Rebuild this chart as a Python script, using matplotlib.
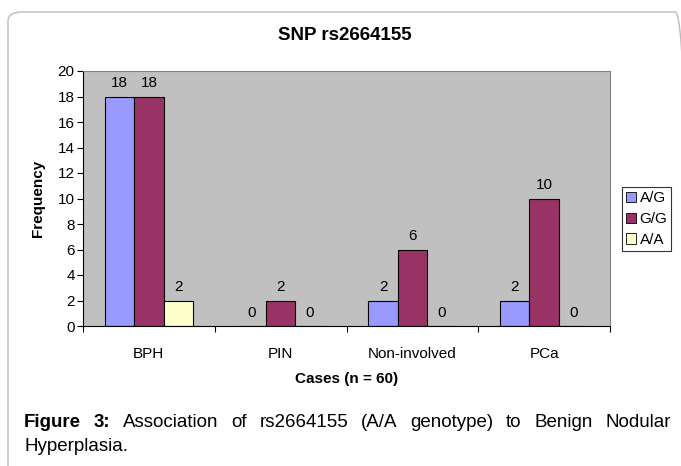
import numpy as np
import matplotlib.pyplot as plt
from matplotlib.patches import FancyBboxPatch

plt.rcParams['font.family'] = ['Liberation Sans', 'DejaVu Sans']

# data
cases = ["BPH", "PIN", "Non-involved", "PCa"]
genotypes = ["A/G", "G/G", "A/A"]
ag = [18, 0, 2, 2]
gg = [18, 2, 6, 10]
aa = [2, 0, 0, 0]
colors = ["#9999FF", "#993366", "#FFFFCC"]

W, H = 681, 466
fig = plt.figure(figsize=(W / 100, H / 100), dpi=100)

# rounded frame around the figure box
frame = FancyBboxPatch((8 / W, -0.2), 1.0, 1 - 12 / H + 0.2,
                       boxstyle="round,pad=0,rounding_size=0.02",
                       transform=fig.transFigure, facecolor="none",
                       edgecolor="#BBBBBB", linewidth=1.0)
fig.patches.append(frame)

ax = fig.add_axes([83 / W, 1 - 326 / H, (610 - 83) / W, (326 - 71) / H])
ax.set_facecolor("#C0C0C0")

fs = 11
index = np.arange(len(cases))
bar_width = 1 / 4.5
series = [ag, gg, aa]
for i, (vals, c, lab) in enumerate(zip(series, colors, genotypes)):
    bars = ax.bar(index + (i - 1) * bar_width, vals, bar_width, color=c,
                  edgecolor="black", linewidth=0.8, label=lab)
    for b, v in zip(bars, vals):
        ax.text(b.get_x() + b.get_width() / 2, v + 0.5, str(v),
                ha="center", va="bottom", fontsize=fs)

ax.set_xlim(-0.5, 3.5)
ax.set_ylim(0, 20)
ax.set_yticks(np.arange(0, 21, 2))
ax.set_xticks(np.arange(-0.5, 3.6, 1))
ax.set_xticklabels([])
ax.set_xticks(index, minor=True)
ax.set_xticklabels(cases, minor=True)
ax.tick_params(axis="x", which="minor", length=0, pad=15, labelsize=fs)
ax.tick_params(axis="x", which="major", length=4, direction="out")
ax.tick_params(axis="y", length=4, direction="out", labelsize=fs, pad=2)
for s in ["top", "right"]:
    ax.spines[s].set_color("#808080")
for s in ["left", "bottom"]:
    ax.spines[s].set_color("black")

ax.set_ylabel("Frequency", fontsize=fs, fontweight="bold", labelpad=9)
ax.set_xlabel("Cases (n = 60)", fontsize=fs, fontweight="bold", labelpad=8)
fig.text(345 / W, 1 - 35 / H, "SNP rs2664155", ha="center", va="center",
         fontsize=13.5, fontweight="bold")

leg = fig.legend(loc="center left", bbox_to_anchor=(622 / W, 1 - 219 / H),
                 fontsize=fs, frameon=True, fancybox=False, edgecolor="black",
                 handlelength=0.65, handleheight=0.65, handletextpad=0.25,
                 borderpad=0.25, labelspacing=0.45, borderaxespad=0)
leg.get_frame().set_linewidth(0.8)
for h in leg.legend_handles:
    h.set_edgecolor("black")
    h.set_linewidth(0.6)

# caption, line 1 justified between x0 and x1
x0, x1 = 24 / W, 671 / W
words = [("Figure", "bold"), ("3:", "bold"), ("Association", "normal"),
         ("of", "normal"), ("rs2664155", "normal"), ("(A/A", "normal"),
         ("genotype)", "normal"), ("to", "normal"), ("Benign", "normal"),
         ("Nodular", "normal")]
cfs = 13.5
y1 = 1 - 427 / H
fig.canvas.draw()
rend = fig.canvas.get_renderer()
texts = [fig.text(0, y1, w, fontsize=cfs, fontweight=fw, va="baseline")
         for w, fw in words]
widths = [t.get_window_extent(rend).width / W for t in texts]
gap = (x1 - x0 - sum(widths)) / (len(words) - 1)
x = x0
for t, wd in zip(texts, widths):
    t.set_x(x)
    x += wd + gap
fig.text(x0, 1 - 451 / H, "Hyperplasia.", fontsize=cfs, va="baseline")

fig.savefig("out.png", dpi=100)
